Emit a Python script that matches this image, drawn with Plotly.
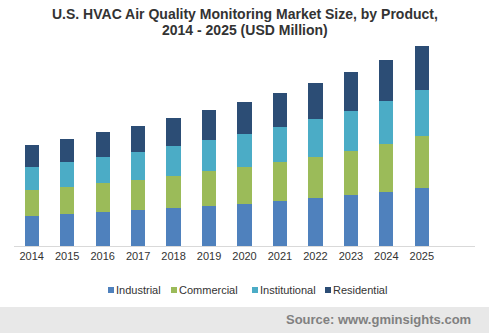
import plotly.graph_objects as go

years = ["2014", "2015", "2016", "2017", "2018", "2019",
         "2020", "2021", "2022", "2023", "2024", "2025"]
industrial = [156.7, 167.2, 177.6, 188.1, 198.5, 209.0, 219.4, 235.1, 250.8, 266.4, 282.1, 303.0]
commercial = [135.8, 141.0, 151.5, 156.7, 167.2, 182.8, 193.3, 203.7, 214.2, 229.9, 250.8, 271.6]
institutional = [120.2, 130.6, 135.8, 146.3, 156.7, 161.9, 172.4, 182.8, 198.5, 209.0, 224.6, 240.3]
residential = [114.9, 120.2, 130.6, 135.8, 146.3, 156.7, 167.2, 177.6, 188.1, 203.7, 214.2, 229.9]

label_year = "2017"
label_value = 626.9

series = [
    ("Industrial", industrial, "#4F81BD"),
    ("Commercial", commercial, "#9BBB59"),
    ("Institutional", institutional, "#4BACC6"),
    ("Residential", residential, "#2C4D75"),
]

W, H = 489, 333
ML, MR, MT, MB = 14, 14, 35, 87
PW, PH = W - ML - MR, H - MT - MB


def px_x(p):
    return (p - ML) / PW


def px_y(p):
    return (H - MB - p) / PH


fig = go.Figure()
for name, vals, color in series:
    fig.add_trace(go.Bar(x=years, y=vals, name=name, marker_color=color,
                         marker_line_width=0, showlegend=False))

fig.add_annotation(x=label_year, y=label_value, text=f"{label_value:.1f}",
                   showarrow=False, yanchor="bottom", yshift=3,
                   font=dict(size=11, color="#333333"))

fig.update_layout(
    barmode="stack",
    bargap=0.6,
    width=W, height=H,
    margin=dict(l=ML, r=MR, t=MT, b=MB),
    paper_bgcolor="white", plot_bgcolor="white",
    font=dict(family="Liberation Sans, Arial, sans-serif", color="#333333"),
    xaxis=dict(range=[-0.5, 12.5], showline=True, linecolor="#d9d9d9", linewidth=1,
               ticks="", tickfont=dict(size=11, color="#333333"), showgrid=False),
    yaxis=dict(range=[0, 1102], visible=False, showgrid=False),
    showlegend=False,
)

# Two-line bold title
title_lines = ["U.S. HVAC Air Quality Monitoring Market Size, by Product,",
               "2014 - 2025 (USD Million)"]
for line, yc in zip(title_lines, [14, 30]):
    fig.add_annotation(xref="paper", yref="paper", x=px_x(W / 2), y=px_y(yc),
                       xanchor="center", yanchor="middle", showarrow=False,
                       text=f"<b>{line}</b>",
                       font=dict(size=14, color="#333333"))

# Legend row: small coloured squares followed by series names
legend_x = [108, 171, 252, 325]
for (name, _, color), lx in zip(series, legend_x):
    fig.add_shape(type="rect", xref="paper", yref="paper",
                  x0=px_x(lx), x1=px_x(lx + 6), y0=px_y(293), y1=px_y(287),
                  fillcolor=color, line_width=0)
    fig.add_annotation(xref="paper", yref="paper", x=px_x(lx + 6), y=px_y(290),
                       xanchor="left", yanchor="middle", showarrow=False,
                       text=name, font=dict(size=11, color="#333333"))

# Grey source band along the bottom
fig.add_shape(type="rect", xref="paper", yref="paper",
              x0=-0.05, x1=1.05, y0=px_y(H + 10), y1=px_y(307),
              fillcolor="#e8e8e8", line_width=0, layer="below")
fig.add_annotation(xref="paper", yref="paper", x=px_x(473), y=px_y(319),
                   xanchor="right", yanchor="middle", showarrow=False,
                   text="<b>Source: www.gminsights.com</b>",
                   font=dict(size=13, color="#808080"))

fig.write_html("out.html")
